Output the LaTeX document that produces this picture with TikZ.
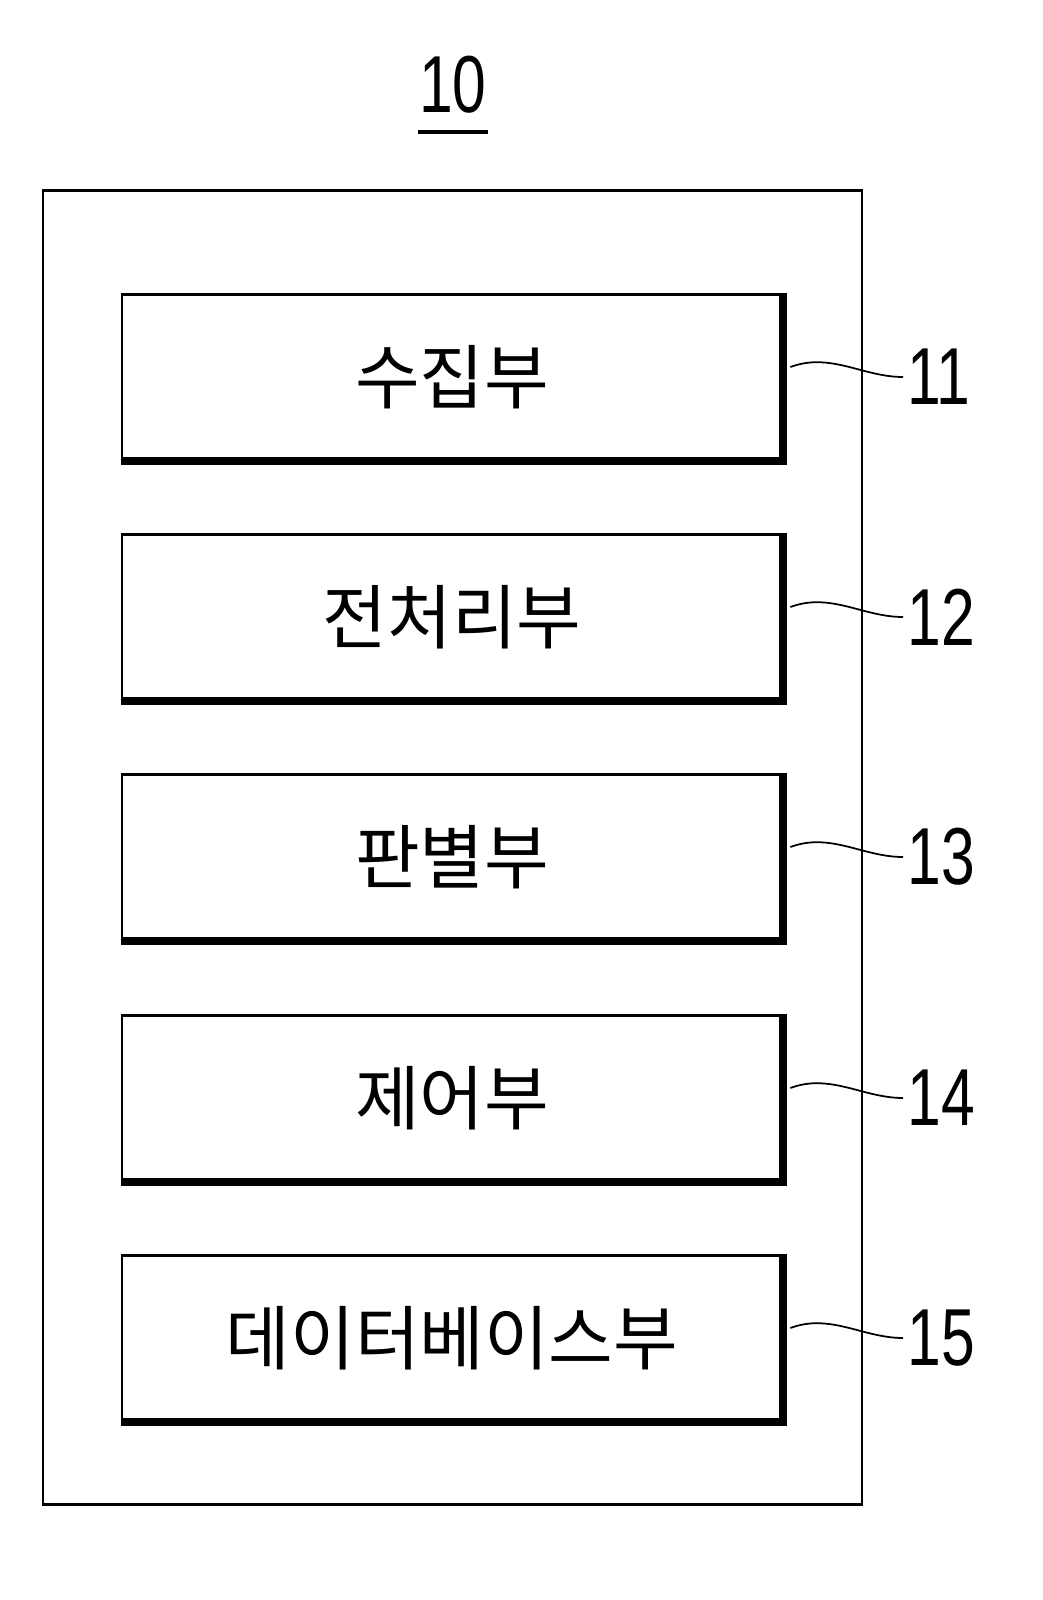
\documentclass[tikz,border=0pt]{standalone}
\usepackage{fontspec}
\setmainfont{Liberation Sans}
\newfontfamily\kr{Noto Sans CJK KR}
\begin{document}
\begin{tikzpicture}[x=0.02cm,y=-0.02cm,
  unit/.style={draw, line width=1.6pt, minimum width=13.2cm, minimum height=3.3cm, font=\kr\fontsize{40}{44}\selectfont},
  refnum/.style={font=\fontsize{46}{48}\selectfont, xscale=0.75, anchor=west}]
% outer frame
\node[draw, line width=1.6pt, minimum width=16.38cm, minimum height=26.3cm] (sys) at (452.5,847.5) {};
\node[font=\fontsize{46}{48}\selectfont, xscale=0.75] (title) at (453,85) {10};
\draw[line width=2.5pt] (418,132) -- (488,132);
% units
\foreach \name/\txt/\y/\num in {col/수집부/377/11, pre/전처리부/617/12, jud/판별부/857/13, ctl/제어부/1098/14, db/데이터베이스부/1338/15}{
  \node[unit] (\name) at (452,\y) {\txt};
  \draw[line width=4.5pt] (\name.north east) -- (\name.south east) -- (\name.south west);
  \node[refnum] (n\name) at (903,\y) {\num};
  \draw[line width=1pt] ([xshift=4pt,yshift=0.2cm]\name.east) .. controls +(40,-15) and +(-40,0) .. (n\name.west);
}
\pgfresetboundingbox
\useasboundingbox (0,0) rectangle (1042,1600);
\end{tikzpicture}
\end{document}
